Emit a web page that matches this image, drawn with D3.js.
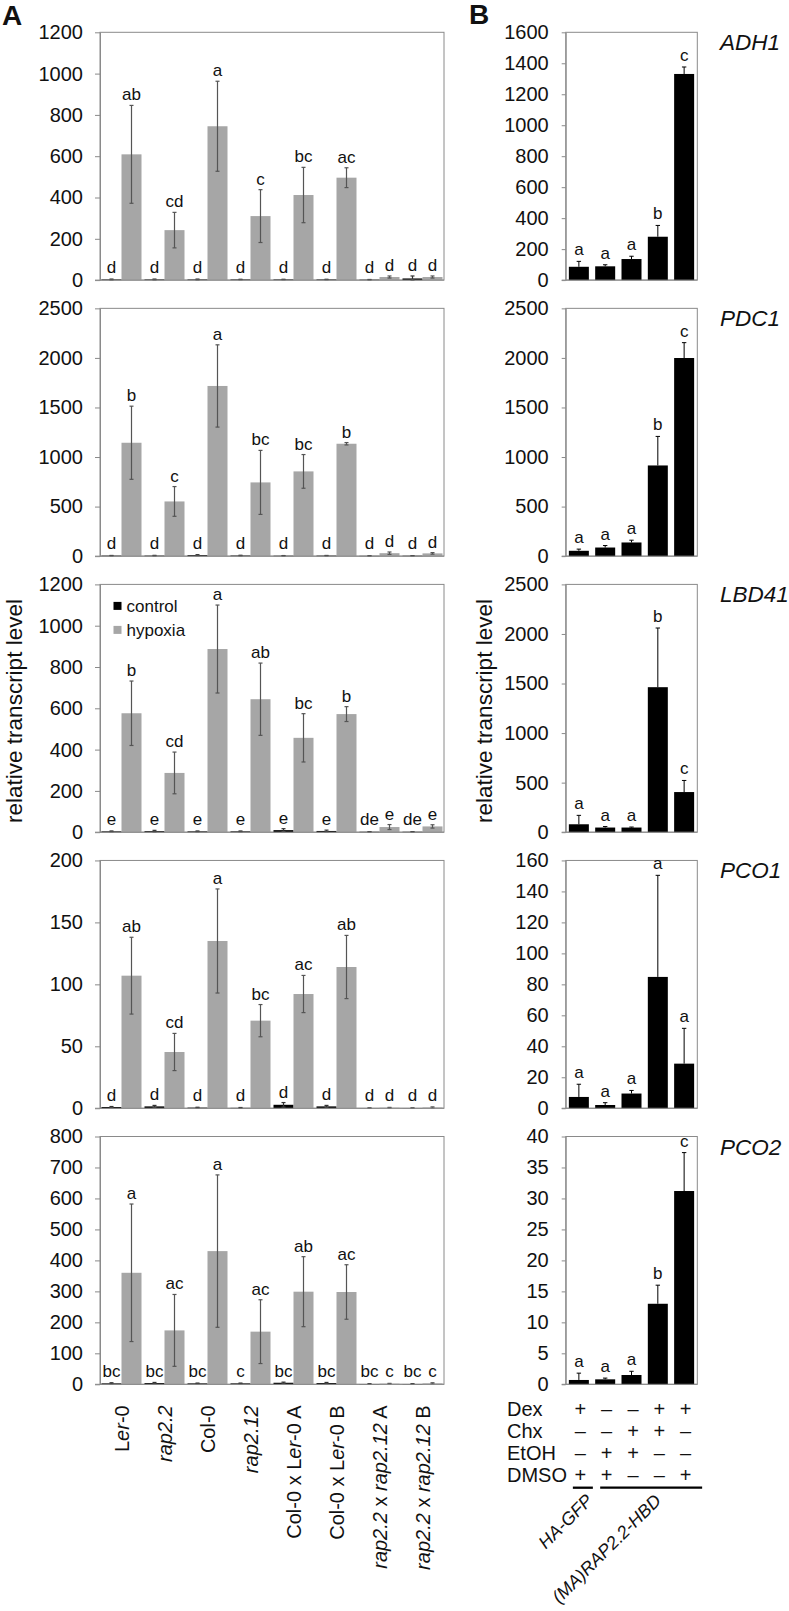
<!DOCTYPE html>
<html><head><meta charset="utf-8">
<script src="https://cdn.jsdelivr.net/npm/d3@7/dist/d3.min.js"></script>
<style>
body{margin:0;background:#fff}
svg{display:block}
text{font-family:"Liberation Sans",Arial,Helvetica,sans-serif;fill:#111}
</style>
</head><body>
<svg id="c" width="789" height="1611"></svg>
<script>
// ---------------- DATA ----------------
const genes = ["ADH1", "PDC1", "LBD41", "PCO1", "PCO2"];
const groupsA = ["Ler-0", "rap2.2", "Col-0", "rap2.12", "Col-0 x Ler-0 A", "Col-0 x Ler-0 B", "rap2.2 x rap2.12 A", "rap2.2 x rap2.12 B"];
// label segments: [text, italic]
const groupLabelParts = [
  [["L",0],["er",1],["-0",0]],
  [["rap2.2",1]],
  [["Col-0",0]],
  [["rap2.12",1]],
  [["Col-0 x L",0],["er",1],["-0 A",0]],
  [["Col-0 x L",0],["er",1],["-0 B",0]],
  [["rap2.2",1],[" x ",0],["rap2.12",1],[" A",0]],
  [["rap2.2",1],[" x ",0],["rap2.12",1],[" B",0]]
];
const seriesA = ["control", "hypoxia"];

const yMaxA  = [1200, 2500, 1200, 200, 800];
const yStepA = [200, 500, 200, 50, 100];
const yMaxB  = [1600, 2500, 2500, 160, 40];
const yStepB = [200, 500, 500, 20, 5];

const controlMeans = [
  [3, 3, 3, 3, 3, 3, 2, 8],
  [5, 5, 10, 6, 4, 5, 3, 4],
  [4, 5, 4, 4, 10, 6, 2, 2],
  [1.0, 1.5, 0.5, 0.3, 2.8, 1.5, 0.1, 0.1],
  [3, 4, 3, 3, 5, 4, 1, 1]
];
const controlErrs = [
  [2, 2, 2, 1, 1, 1, 1, 12],
  [2, 3, 5, 3, 2, 2, 1, 1],
  [2, 4, 2, 2, 7, 4, 1, 1],
  [0.4, 0.8, 0.3, 0.3, 1.8, 0.8, 0.1, 0.1],
  [2, 2, 1, 1, 2, 2, 1, 1]
];
const hypoxiaMeans = [
  [609, 242, 745, 310, 412, 496, 15, 15],
  [1144, 552, 1717, 744, 855, 1134, 30, 28],
  [576, 287, 887, 644, 457, 572, 25, 28],
  [107, 45.4, 135, 70.7, 92.2, 114, 0.4, 0.6],
  [360, 174, 430, 170, 299, 298, 2, 3]
];
const hypoxiaErrs = [
  [237, 86, 218, 128, 134, 48, 5, 5],
  [369, 150, 415, 323, 170, 12, 12, 8],
  [156, 101, 213, 175, 117, 36, 12, 8],
  [31, 15, 42, 13, 15, 25.5, 0.3, 0.5],
  [222, 116, 246, 103, 113, 88, 1, 2]
];
const controlLetters = [
  ["d","d","d","d","d","d","d","d"],
  ["d","d","d","d","d","d","d","d"],
  ["e","e","e","e","e","e","de","de"],
  ["d","d","d","d","d","d","d","d"],
  ["bc","bc","bc","c","bc","bc","bc","bc"]
];
const hypoxiaLetters = [
  ["ab","cd","a","c","bc","ac","d","d"],
  ["b","c","a","bc","bc","b","d","d"],
  ["b","cd","a","ab","bc","b","e","e"],
  ["ab","cd","a","bc","ac","ab","d","d"],
  ["a","ac","a","ac","ab","ac","c","c"]
];

// Panel B
const treatments = ["t1", "t2", "t3", "t4", "t5"];
const treatMeans = [
  [86, 89, 136, 280, 1331],
  [54, 87, 138, 915, 1999],
  [80, 47, 47, 1463, 405],
  [7.3, 2.1, 9.5, 84.8, 28.8],
  [0.7, 0.8, 1.5, 13.0, 31.2]
];
const treatErrs = [
  [35, 10, 18, 73, 45],
  [17, 20, 23, 293, 155],
  [90, 10, 5, 597, 117],
  [8.2, 1.5, 2, 65.6, 22.8],
  [1.1, 0.2, 0.6, 3, 6.2]
];
const treatLetters = [
  ["a","a","a","b","c"],
  ["a","a","a","b","c"],
  ["a","a","a","b","c"],
  ["a","a","a","a","a"],
  ["a","a","a","b","c"]
];
const tableRows = ["Dex", "Chx", "EtOH", "DMSO"];
const dexSigns  = ["+", "–", "–", "+", "+"];
const chxSigns  = ["–", "–", "+", "+", "–"];
const etohSigns = ["–", "+", "+", "–", "–"];
const dmsoSigns = ["+", "+", "–", "–", "+"];
const genotypes = ["HA-GFP", "(MA)RAP2.2-HBD"];
const yTitle = "relative transcript level";

// ---------------- DRAW ----------------
const svg = d3.select("#c");
const top0 = 32.3, step = 276.05, ph = 247.8;
const A = {l: 100, r: 444}, B = {l: 565.7, r: 697.3};
const boxGray = "#8a8a8a";
const tickFont = "20px";
const letterFont = "17px";
const fmt = d3.format("d");

function styleAxis(g){
  g.select(".domain").attr("stroke", boxGray);
  g.selectAll(".tick line").attr("stroke", boxGray);
  g.selectAll(".tick text").style("font-size", tickFont).attr("fill", "#111");
}

const xA = d3.scaleBand().domain(groupsA).range([A.l, A.r]);
const xSub = d3.scaleBand().domain(seriesA).range([0, xA.bandwidth()]).paddingOuter(0.075);
const xB = d3.scaleBand().domain(treatments).range([B.l, B.r]).paddingInner(0.24).paddingOuter(0.12);

genes.forEach((gene, i) => {
  const top = top0 + i * step, bottom = top + ph;

  // ----- Panel A -----
  const yA = d3.scaleLinear().domain([0, yMaxA[i]]).range([bottom, top]);
  svg.append("rect").attr("x", A.l).attr("y", top).attr("width", A.r - A.l).attr("height", ph)
    .attr("fill", "none").attr("stroke", boxGray).attr("stroke-width", 1);

  const gA = svg.append("g");
  groupsA.forEach((grp, j) => {
    const sets = [
      {s: "control", m: controlMeans[i][j], e: controlErrs[i][j], L: controlLetters[i][j], fill: "#000", ec: "#333"},
      {s: "hypoxia", m: hypoxiaMeans[i][j], e: hypoxiaErrs[i][j], L: hypoxiaLetters[i][j], fill: "#a6a6a6", ec: "#555"}
    ];
    sets.forEach(d => {
      const x0 = xA(grp) + xSub(d.s), w = xSub.bandwidth(), cx = x0 + w / 2;
      gA.append("rect").attr("x", x0).attr("y", yA(d.m)).attr("width", w)
        .attr("height", yA(0) - yA(d.m)).attr("fill", d.fill);
      const yt = yA(d.m + d.e), yb = yA(Math.max(0, d.m - d.e));
      gA.append("line").attr("x1", cx).attr("x2", cx).attr("y1", yt).attr("y2", yb).attr("stroke", d.ec).attr("stroke-width", 1.2);
      [yt, yb].forEach(yy => gA.append("line").attr("x1", cx - 2).attr("x2", cx + 2).attr("y1", yy).attr("y2", yy).attr("stroke", d.ec).attr("stroke-width", 1.2));
      const ly = Math.min(yt - 5, yA(0) - 7);
      gA.append("text").attr("x", cx).attr("y", ly).attr("text-anchor", "middle").style("font-size", letterFont).text(d.L);
    });
  });
  const axA = svg.append("g").attr("transform", `translate(${A.l},0)`)
    .call(d3.axisLeft(yA).tickValues(d3.range(0, yMaxA[i] + 1e-9, yStepA[i])).tickFormat(fmt).tickSize(5).tickPadding(12).tickSizeOuter(0));
  styleAxis(axA);
  svg.append("line").attr("x1", A.l - 5).attr("x2", A.r).attr("y1", yA(0)).attr("y2", yA(0)).attr("stroke", boxGray);

  // ----- Panel B -----
  const yB = d3.scaleLinear().domain([0, yMaxB[i]]).range([bottom, top]);
  svg.append("rect").attr("x", B.l).attr("y", top).attr("width", B.r - B.l).attr("height", ph)
    .attr("fill", "none").attr("stroke", boxGray).attr("stroke-width", 1);
  const gB = svg.append("g");
  treatments.forEach((t, j) => {
    const m = treatMeans[i][j], e = treatErrs[i][j];
    const x0 = xB(t), w = xB.bandwidth(), cx = x0 + w / 2;
    gB.append("rect").attr("x", x0).attr("y", yB(m)).attr("width", w).attr("height", yB(0) - yB(m)).attr("fill", "#000");
    const yt = yB(m + e);
    gB.append("line").attr("x1", cx).attr("x2", cx).attr("y1", yt).attr("y2", yB(m)).attr("stroke", "#000").attr("stroke-width", 1);
    gB.append("line").attr("x1", cx - 2.2).attr("x2", cx + 2.2).attr("y1", yt).attr("y2", yt).attr("stroke", "#000").attr("stroke-width", 1);
    gB.append("text").attr("x", cx).attr("y", Math.min(yt - 6, yB(0) - 8)).attr("text-anchor", "middle").style("font-size", letterFont).text(treatLetters[i][j]);
  });
  const axB = svg.append("g").attr("transform", `translate(${B.l},0)`)
    .call(d3.axisLeft(yB).tickValues(d3.range(0, yMaxB[i] + 1e-9, yStepB[i])).tickFormat(fmt).tickSize(4).tickPadding(13).tickSizeOuter(0));
  styleAxis(axB);
  svg.append("line").attr("x1", B.l - 4).attr("x2", B.r).attr("y1", yB(0)).attr("y2", yB(0)).attr("stroke", boxGray);

  svg.append("text").attr("x", 720).attr("y", top + 18).style("font-size", "22.5px").style("font-style", "italic").text(gene);

  // legend on LBD41 panel
  if (i === 2) {
    seriesA.forEach((s, k) => {
      const ly = top + 21.5 + k * 24;
      svg.append("rect").attr("x", 113.5).attr("y", ly - 4).attr("width", 8).attr("height", 8).attr("fill", k === 0 ? "#000" : "#a6a6a6");
      svg.append("text").attr("x", 126.5).attr("y", ly).attr("dy", "0.35em").style("font-size", "17px").text(s);
    });
  }
});

// panel letters
svg.append("text").attr("x", 2).attr("y", 24.5).style("font-size", "28px").style("font-weight", "bold").text("A");
svg.append("text").attr("x", 469).attr("y", 24).style("font-size", "28px").style("font-weight", "bold").text("B");

// y titles
[22.4, 491.5].forEach(x => {
  svg.append("text").attr("transform", `translate(${x},711) rotate(-90)`).attr("text-anchor", "middle")
    .style("font-size", "22.5px").text(yTitle);
});

// x labels for A
const lastBottom = top0 + 4 * step + ph;
groupsA.forEach((grp, j) => {
  const cx = xA(grp) + xA.bandwidth() / 2;
  const t = svg.append("text").attr("transform", `translate(${cx},${lastBottom + 21}) rotate(-90)`)
    .attr("text-anchor", "end").attr("dy", "0.35em").style("font-size", "20px");
  groupLabelParts[j].forEach(p => t.append("tspan").style("font-style", p[1] ? "italic" : "normal").text(p[0]));
});

// table for B
const signRows = [dexSigns, chxSigns, etohSigns, dmsoSigns];
tableRows.forEach((r, k) => {
  const y = lastBottom + 25 + k * 22;
  svg.append("text").attr("x", 507).attr("y", y).attr("dy", "0.35em").style("font-size", "20px").text(r);
  signRows[k].forEach((s, j) => {
    svg.append("text").attr("x", xB(treatments[j]) + xB.bandwidth() / 2 + 1.5).attr("y", y).attr("dy", "0.35em")
      .attr("text-anchor", "middle").style("font-size", "20px").text(s);
  });
});
const lineY = lastBottom + 103.4;
const bw = xB.bandwidth();
const gl = [
  [xB(treatments[0]) + 4, xB(treatments[0]) + bw + 4],
  [xB(treatments[1]) + 5, xB(treatments[4]) + bw + 8]
];
gl.forEach((seg, k) => {
  svg.append("line").attr("x1", seg[0]).attr("x2", seg[1]).attr("y1", lineY).attr("y2", lineY).attr("stroke", "#000").attr("stroke-width", 2.3);
  const cx = (seg[0] + seg[1]) / 2;
  svg.append("text").attr("transform", `translate(${cx + 11},${lineY + 14}) rotate(-45)`).attr("text-anchor", "end")
    .style("font-size", "18px").style("font-style", "italic").text(genotypes[k]);
});
</script>
</body></html>
